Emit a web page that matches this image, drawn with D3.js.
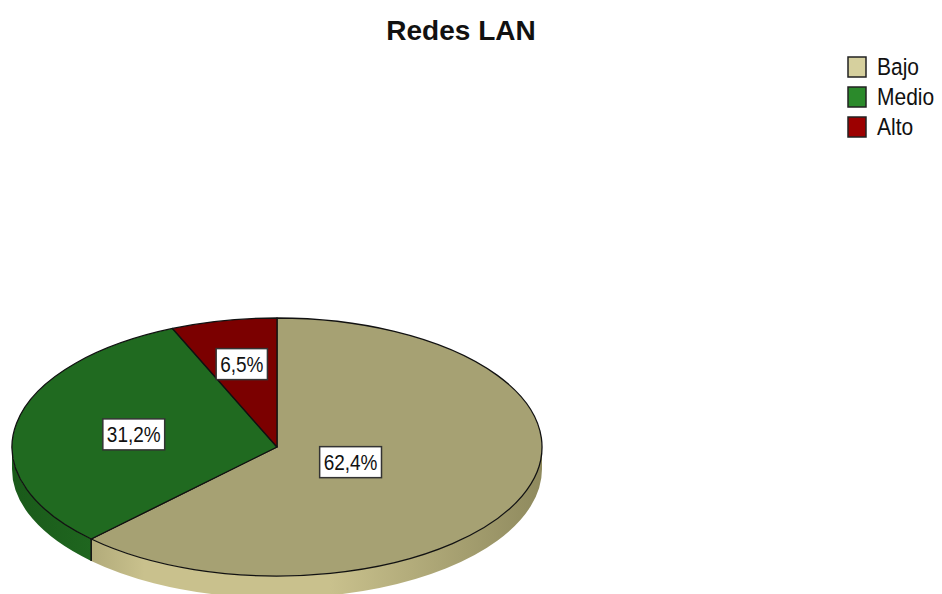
<!DOCTYPE html>
<html>
<head>
<meta charset="utf-8">
<script src="https://cdn.jsdelivr.net/npm/d3@7"></script>
<style>
body{margin:0;background:#fff;}
svg{display:block;font-family:"Liberation Sans",Arial,sans-serif;}
</style>
</head>
<body>
<div id="chart"></div>
<script>
// data (counts, n = 93)
const title = "Redes LAN";
const categories = ["Bajo", "Medio", "Alto"];
const counts = [58, 29, 6];

const width = 942, height = 594;
// colours: top face, legend swatch, side wall (light, dark)
const topColor = ["#a6a173", "#206a20", "#7b0000"];
const swatchColor = ["#d6d09e", "#2b8a2b", "#9c0000"];
const sideLight = ["#c9c18d", "#226e22", "#8a0000"];
const sideDark = ["#8f8a5e", "#1a5a1a", "#5e0000"];
const labelFrac = [0.3, 0.55, 0.66];

const cx = 277, cy = 447, rx = 265, ry = 129, depth = 22;

let svg = d3.select("#chart").append("svg").attr("width", width).attr("height", height);

svg.append("text").attr("x", 461).attr("y", 40).attr("text-anchor", "middle")
  .attr("font-weight", "bold").attr("font-size", 28).attr("fill", "#111").text(title);

let pie = d3.pie().sort(null).value(d => d)(counts);
let total = d3.sum(counts);

function pt(a, dy) { return [cx + rx * Math.sin(a), cy - ry * Math.cos(a) + (dy || 0)]; }

let defs = svg.append("defs");
categories.forEach((c, i) => {
  let g = defs.append("linearGradient").attr("id", "side" + i)
    .attr("gradientUnits", "userSpaceOnUse")
    .attr("x1", cx - rx).attr("x2", cx + rx).attr("y1", 0).attr("y2", 0);
  g.append("stop").attr("offset", "0%").attr("stop-color", sideDark[i]);
  g.append("stop").attr("offset", "25%").attr("stop-color", sideLight[i]);
  g.append("stop").attr("offset", "60%").attr("stop-color", sideLight[i]);
  g.append("stop").attr("offset", "100%").attr("stop-color", sideDark[i]);
});

// side walls (front half only: angles PI/2 .. 3PI/2)
let sides = svg.append("g");
pie.forEach((d, i) => {
  let a0 = Math.max(d.startAngle, Math.PI / 2), a1 = Math.min(d.endAngle, 3 * Math.PI / 2);
  if (a1 <= a0) return;
  let p0 = pt(a0), p1 = pt(a1), q1 = pt(a1, depth), q0 = pt(a0, depth);
  let large = (a1 - a0) > Math.PI ? 1 : 0;
  let path = "M" + p0 + " A" + rx + "," + ry + " 0 " + large + " 1 " + p1 +
    " L" + q1 + " A" + rx + "," + ry + " 0 " + large + " 0 " + q0 + " Z";
  sides.append("path").attr("d", path).attr("fill", "url(#side" + i + ")");
  // dark edge where slices meet on the wall
  if (d.startAngle > Math.PI / 2 && d.startAngle < 3 * Math.PI / 2) {
    sides.append("line").attr("x1", p0[0]).attr("y1", p0[1]).attr("x2", q0[0]).attr("y2", q0[1])
      .attr("stroke", "#111").attr("stroke-width", 1.5);
  }
});

// top face
let tops = svg.append("g");
pie.forEach((d, i) => {
  let p0 = pt(d.startAngle), p1 = pt(d.endAngle);
  let large = (d.endAngle - d.startAngle) > Math.PI ? 1 : 0;
  let path = "M" + cx + "," + cy + " L" + p0 + " A" + rx + "," + ry + " 0 " + large + " 1 " + p1 + " Z";
  tops.append("path").attr("d", path).attr("fill", topColor[i])
    .attr("stroke", "#111").attr("stroke-width", 1.3).attr("stroke-linejoin", "round");
});

// labels (SPSS text is a bit taller than Arial, so stretch it vertically)
let fmt = d3.format(".1f");
let labels = svg.append("g").attr("font-size", 19);
pie.forEach((d, i) => {
  let mid = (d.startAngle + d.endAngle) / 2;
  let x = cx + rx * labelFrac[i] * Math.sin(mid);
  let y = cy - ry * labelFrac[i] * Math.cos(mid);
  let txt = fmt(d.value / total * 100).replace(".", ",") + "%";
  let g = labels.append("g").attr("transform", "translate(" + x + "," + y + ")");
  let t = g.append("text").attr("text-anchor", "middle").attr("transform", "scale(1,1.2)")
    .attr("y", 7).attr("fill", "#111").text(txt);
  let w = t.node().getComputedTextLength();
  g.insert("rect", "text").attr("x", -w / 2 - 4).attr("y", -15).attr("width", w + 8).attr("height", 31)
    .attr("fill", "#fff").attr("stroke", "#333").attr("stroke-width", 1.5);
});

// legend
let legend = svg.append("g").attr("transform", "translate(848,57)");
categories.forEach((c, i) => {
  let row = legend.append("g").attr("transform", "translate(0," + i * 30 + ")");
  row.append("rect").attr("width", 18).attr("height", 20).attr("fill", swatchColor[i])
    .attr("stroke", "#222").attr("stroke-width", 1.5);
  row.append("text").attr("transform", "translate(29,18) scale(1,1.18)")
    .attr("font-size", 21).attr("fill", "#111").text(c);
});
</script>
</body>
</html>
